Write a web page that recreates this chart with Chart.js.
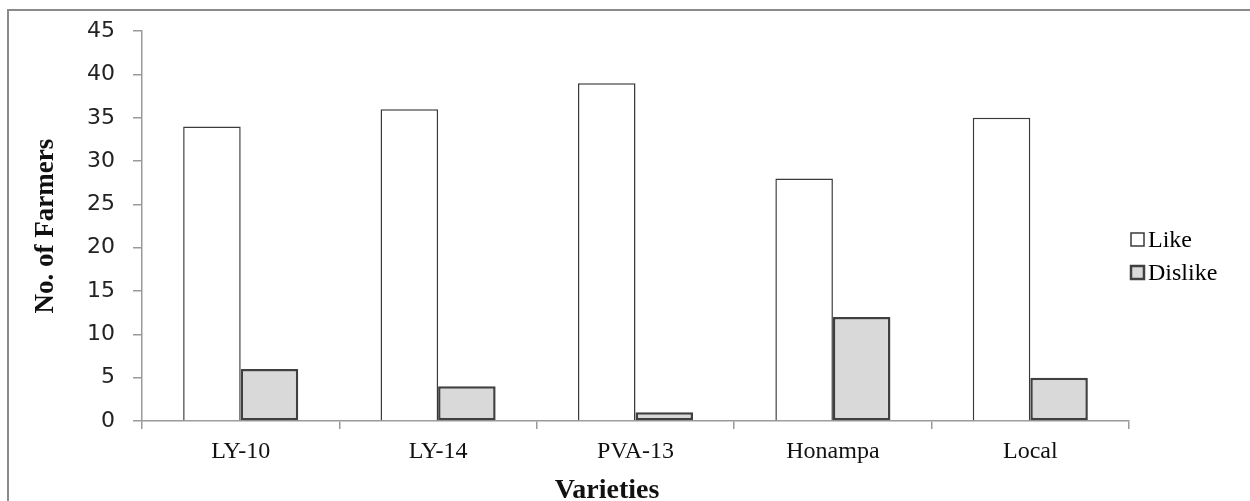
<!DOCTYPE html>
<html>

<head>
  <title>No. of Farmers by variety</title>
  <script src="https://cdn.jsdelivr.net/npm/chart.js@4.4.1/dist/chart.umd.min.js"></script>
  <style>
    body { margin: 0; background: #fff; }
    canvas { display: block; }
  </style>
</head>

<body>
  <canvas id="chart" width="1250" height="501"></canvas>

  <script>
    const varieties = ['LY-10', 'LY-14', 'PVA-13', 'Honampa', 'Local'];
    const likeValues = [34, 36, 39, 28, 35];
    const dislikeValues = [6, 4, 1, 12, 5];
    const yTicks = [0, 5, 10, 15, 20, 25, 30, 35, 40, 45];
    const xTitle = 'Varieties';

    const serif = '"Liberation Serif", "Times New Roman", serif';

    // outer frame, x title and legend drawn by hand
    const framePlugin = {
      id: 'frame',
      afterDraw(chart) {
        const ctx = chart.ctx;
        ctx.save();
        ctx.strokeStyle = '#8a8a8a';
        ctx.lineWidth = 2;
        ctx.beginPath();
        ctx.moveTo(8, 501);
        ctx.lineTo(8, 10);
        ctx.lineTo(1250, 10);
        ctx.stroke();

        // x axis title (sits a bit left of the axis centre in the original)
        ctx.fillStyle = '#111';
        ctx.font = 'bold 28px ' + serif;
        ctx.textAlign = 'center';
        ctx.textBaseline = 'middle';
        ctx.fillText(xTitle, 607, 491);

        // legend
        const items = chart.data.datasets;
        const boxX = 1131, boxSize = 13;
        const rows = [239.5, 272.5];
        ctx.font = '24px ' + serif;
        ctx.textAlign = 'left';
        items.forEach((ds, i) => {
          const cy = rows[i];
          ctx.fillStyle = ds.backgroundColor;
          ctx.fillRect(boxX, cy - boxSize / 2, boxSize, boxSize);
          ctx.strokeStyle = ds.borderColor;
          ctx.lineWidth = i === 0 ? 1.5 : 2.5;
          ctx.strokeRect(boxX, cy - boxSize / 2, boxSize, boxSize);
          ctx.fillStyle = '#000';
          ctx.fillText(ds.label, 1148, cy + 1);
        });
        ctx.restore();
      }
    };

    new Chart(document.getElementById('chart'), {
      type: 'bar',
      data: {
        labels: varieties,
        datasets: [{
          label: 'Like',
          data: likeValues,
          backgroundColor: '#ffffff',
          borderColor: '#3a3a3a',
          borderWidth: 1.5,
          categoryPercentage: 0.583,
          barPercentage: 1.0,
        }, {
          label: 'Dislike',
          data: dislikeValues,
          backgroundColor: '#d9d9d9',
          borderColor: '#404040',
          borderWidth: 2.5,
          borderSkipped: false,
          categoryPercentage: 0.583,
          barPercentage: 1.0,
        }],
      },
      options: {
        responsive: false,
        animation: false,
        devicePixelRatio: 1,
        layout: { padding: { top: 29, right: 121, left: 0, bottom: 0 } },
        plugins: {
          legend: { display: false },
          tooltip: { enabled: false },
        },
        scales: {
          x: {
            afterFit(scale) { scale.height = 80; },
            grid: {
              offset: true,
              drawOnChartArea: false,
              drawTicks: true,
              tickLength: 8,
              color: '#9a9a9a',
              lineWidth: 1.5,
            },
            border: { display: true, color: '#9a9a9a', width: 1.5 },
            ticks: {
              color: '#111',
              padding: 8,
              font: { family: serif, size: 24 },
            },
            title: { display: false },
          },
          y: {
            min: 0,
            max: 45,
            afterFit(scale) { scale.width = 142; },
            afterBuildTicks(scale) { scale.ticks = yTicks.map(v => ({ value: v })); },
            grid: {
              drawOnChartArea: false,
              drawTicks: true,
              tickLength: 9,
              color: '#9a9a9a',
              lineWidth: 1.5,
            },
            border: { display: true, color: '#9a9a9a', width: 1.5 },
            ticks: {
              color: '#222',
              padding: 18,
              font: { family: '"DejaVu Sans", Verdana, sans-serif', size: 22 },
            },
            title: {
              display: true,
              text: 'No. of Farmers',
              color: '#111',
              padding: { top: 30, bottom: 0 },
              font: { family: serif, size: 27, weight: 'bold' },
            },
          },
        },
      },
      plugins: [framePlugin],
    });
  </script>
</body>

</html>
